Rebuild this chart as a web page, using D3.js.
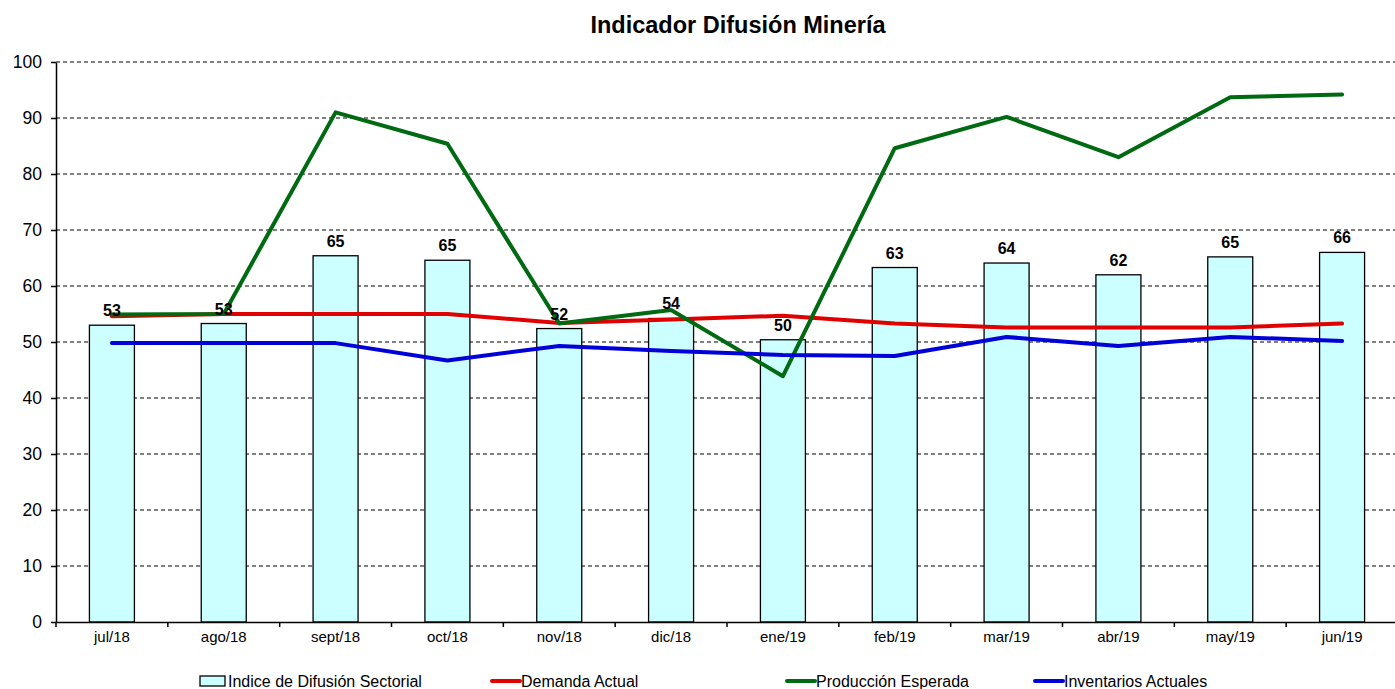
<!DOCTYPE html>
<html lang="es">
<head>
<meta charset="UTF-8">
<title>Indicador Difusión Minería</title>
<script src="https://d3js.org/d3.v7.min.js"></script>
<style>
  body { margin: 0; background: #fff; }
  text { font-family: "Liberation Sans", Arial, sans-serif; }
</style>
</head>
<body>
<div id="chart"></div>
<script>
var months = ["jul/18", "ago/18", "sept/18", "oct/18", "nov/18", "dic/18",
              "ene/19", "feb/19", "mar/19", "abr/19", "may/19", "jun/19"];
var indice = [53.0, 53.3, 65.4, 64.6, 52.4, 54.2, 50.4, 63.3, 64.1, 62.0, 65.2, 66.0];
var demanda = [54.6, 55.0, 55.0, 55.0, 53.4, 54.0, 54.7, 53.3, 52.6, 52.6, 52.6, 53.3];
var produccion = [54.9, 55.0, 91.0, 85.4, 53.3, 55.7, 43.9, 84.6, 90.2, 83.0, 93.7, 94.2];
var inventarios = [49.8, 49.8, 49.8, 46.7, 49.3, 48.4, 47.7, 47.5, 50.9, 49.3, 50.9, 50.2];
var yTicks = [0, 10, 20, 30, 40, 50, 60, 70, 80, 90, 100];

var width = 1395, height = 689;
var plotLeft = 56, plotRight = 1398, plotTop = 62, plotBottom = 622;

var svg = d3.select("#chart").append("svg")
    .attr("width", width)
    .attr("height", height);

var x = d3.scaleBand().domain(months).range([plotLeft, plotRight]);
var y = d3.scaleLinear().domain([0, 100]).range([plotBottom, plotTop]);

// title
svg.append("text")
    .attr("x", 738).attr("y", 33)
    .attr("text-anchor", "middle")
    .style("font-size", "23.5px").style("font-weight", "bold")
    .text("Indicador Difusión Minería");

// dashed grid
svg.append("g").selectAll("line")
    .data(yTicks.filter(function(d) { return d > 0; }))
    .enter().append("line")
    .attr("x1", plotLeft).attr("x2", width)
    .attr("y1", function(d) { return y(d); })
    .attr("y2", function(d) { return y(d); })
    .attr("stroke", "#000").attr("stroke-width", 1)
    .attr("stroke-dasharray", "4,3");

// bars
var bw = 45;
svg.append("g").selectAll("rect")
    .data(indice).enter().append("rect")
    .attr("x", function(d, i) { return x(months[i]) + x.bandwidth() / 2 - bw / 2; })
    .attr("y", function(d) { return y(d); })
    .attr("width", bw)
    .attr("height", function(d) { return plotBottom - y(d); })
    .attr("fill", "#CCFFFF")
    .attr("stroke", "#000").attr("stroke-width", 1.3);

// lines
var line = d3.line()
    .x(function(d, i) { return x(months[i]) + x.bandwidth() / 2; })
    .y(function(d) { return y(d); });

var series = [
  { vals: demanda, color: "#E00000" },
  { vals: produccion, color: "#006A12" },
  { vals: inventarios, color: "#0000D8" }
];
series.forEach(function(s) {
  svg.append("path")
      .datum(s.vals)
      .attr("d", line)
      .attr("fill", "none")
      .attr("stroke", s.color)
      .attr("stroke-width", 4)
      .attr("stroke-linejoin", "round")
      .attr("stroke-linecap", "round");
});

// bar labels
svg.append("g").selectAll("text")
    .data(indice).enter().append("text")
    .attr("x", function(d, i) { return x(months[i]) + x.bandwidth() / 2; })
    .attr("y", function(d) { return y(d) - 9; })
    .attr("text-anchor", "middle")
    .style("font-size", "16px").style("font-weight", "bold")
    .text(function(d) { return Math.round(d); });

// y axis
var yAxis = svg.append("g")
    .attr("transform", "translate(" + plotLeft + ",0)")
    .call(d3.axisLeft(y).tickValues(yTicks).tickSize(5).tickSizeOuter(0));
yAxis.select(".domain").attr("stroke-width", 1.5);
yAxis.selectAll("line").attr("stroke-width", 1.5);
yAxis.selectAll("text")
    .style("font-size", "17.5px")
    .style("font-family", "Liberation Sans, Arial, sans-serif")
    .attr("x", -14);

// x axis
var xAxis = svg.append("g")
    .attr("transform", "translate(0," + plotBottom + ")")
    .call(d3.axisBottom(x).tickSize(0).tickSizeOuter(0));
xAxis.select(".domain").attr("stroke-width", 1.5);
xAxis.selectAll("text")
    .style("font-size", "15px")
    .style("font-family", "Liberation Sans, Arial, sans-serif")
    .attr("dy", "1.1em");
// tick marks at category boundaries
xAxis.selectAll(".sep")
    .data(months).enter().append("line")
    .attr("x1", function(d) { return x(d); })
    .attr("x2", function(d) { return x(d); })
    .attr("y1", 0).attr("y2", 5)
    .attr("stroke", "#000").attr("stroke-width", 1.5);

// legend
var legY = 681;
var leg = svg.append("g").style("font-size", "16px");
leg.append("rect").attr("x", 200).attr("y", legY - 5).attr("width", 25).attr("height", 10)
    .attr("fill", "#CCFFFF").attr("stroke", "#000").attr("stroke-width", 1.3);
leg.append("text").attr("x", 228).attr("y", legY + 6).text("Indice de Difusión Sectorial");
var legLines = [
  { x: 492, color: "#E00000", label: "Demanda Actual" },
  { x: 787, color: "#006A12", label: "Producción Esperada" },
  { x: 1035, color: "#0000D8", label: "Inventarios Actuales" }
];
legLines.forEach(function(l) {
  leg.append("line").attr("x1", l.x).attr("x2", l.x + 28)
      .attr("y1", legY).attr("y2", legY)
      .attr("stroke", l.color).attr("stroke-width", 4).attr("stroke-linecap", "round");
  leg.append("text").attr("x", l.x + 29).attr("y", legY + 6).text(l.label);
});
</script>
</body>
</html>
